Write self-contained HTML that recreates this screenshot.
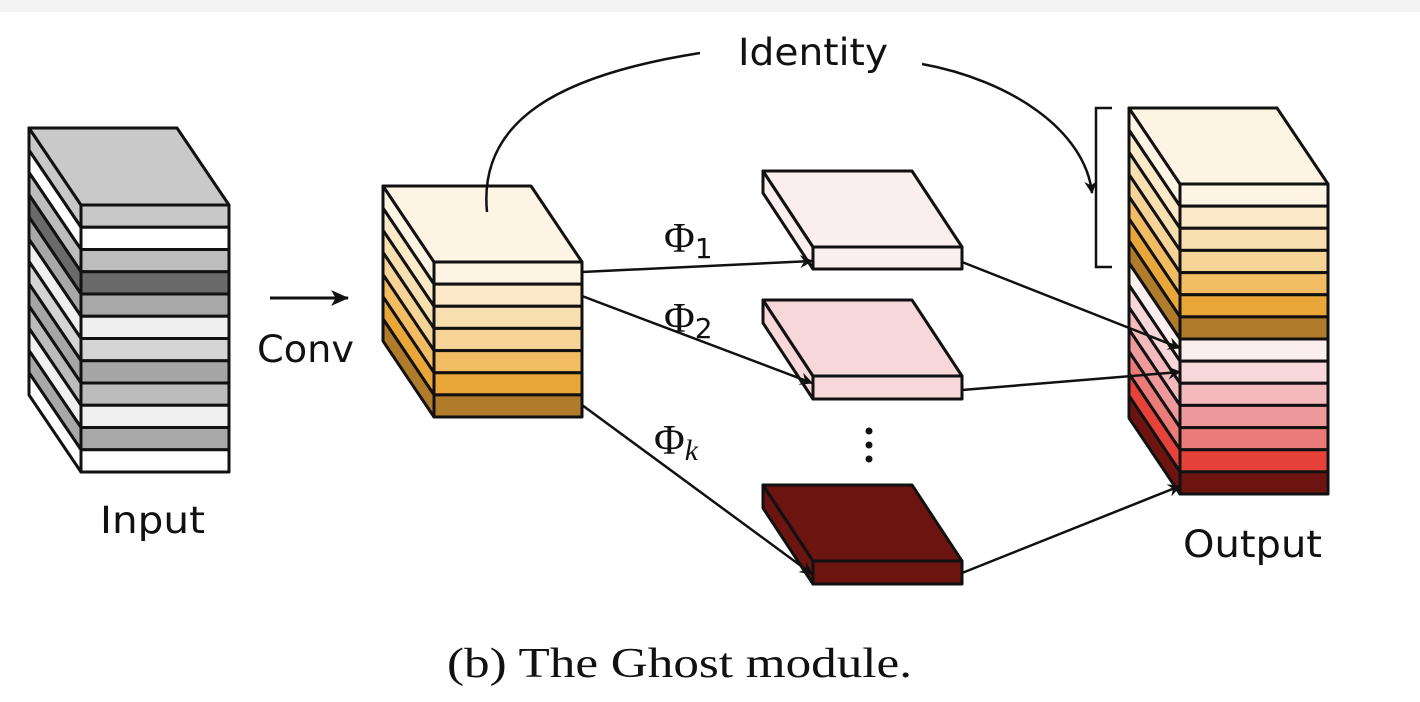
<!DOCTYPE html>
<html><head><meta charset="utf-8"><style>
html,body{margin:0;padding:0;background:#fff;}
svg{display:block;}
</style></head><body>
<svg id="s" width="1420" height="702" viewBox="0 0 1420 702" xmlns="http://www.w3.org/2000/svg">
<defs>
<marker id="ah" viewBox="0 0 12 12" refX="11" refY="6" markerWidth="13" markerHeight="13" markerUnits="userSpaceOnUse" orient="auto">
<path d="M0,0 L12,6 L0,12 L4,6 Z" fill="#111"/>
</marker>
<marker id="ah2" viewBox="0 0 16 16" refX="15" refY="8" markerWidth="18" markerHeight="18" markerUnits="userSpaceOnUse" orient="auto">
<path d="M0,1 L16,8 L0,15 L4,8 Z" fill="#111"/>
</marker>
</defs>
<rect x="0" y="0" width="1420" height="12" fill="#f3f3f3"/>
<g id="g" stroke="#111" stroke-width="3" stroke-linejoin="round"></g>
<g stroke="#111" stroke-width="2.5" fill="none">
<line x1="270" y1="298" x2="348" y2="298" marker-end="url(#ah2)" stroke-width="3"/>
<line x1="582" y1="272" x2="812" y2="261" marker-end="url(#ah)"/>
<line x1="582" y1="296" x2="812" y2="383" marker-end="url(#ah)"/>
<line x1="582" y1="405" x2="812" y2="574" marker-end="url(#ah)"/>
<line x1="962" y1="262" x2="1180" y2="348" marker-end="url(#ah)"/>
<line x1="962" y1="390" x2="1180" y2="372" marker-end="url(#ah)"/>
<line x1="962" y1="573" x2="1180" y2="486" marker-end="url(#ah)"/>
<path d="M487,212 C478,120 560,75 700,53"/>
<path d="M922,64 C1010,80 1085,130 1092,193" marker-end="url(#ah)"/>
<path d="M1112,108 L1096,108 L1096,267 L1112,267"/>
</g>
<g fill="#111"><circle cx="869" cy="431" r="3.5"/><circle cx="869" cy="445" r="3.5"/><circle cx="869" cy="459" r="3.5"/></g>
<g style="font-family:'DejaVu Sans','Liberation Sans',sans-serif" fill="#111" font-size="37">
<text x="738" y="65" textLength="150" lengthAdjust="spacingAndGlyphs">Identity</text>
<text x="257" y="362" textLength="97" lengthAdjust="spacingAndGlyphs">Conv</text>
<text x="100" y="533" textLength="105" lengthAdjust="spacingAndGlyphs">Input</text>
<text x="1183" y="557" textLength="139" lengthAdjust="spacingAndGlyphs">Output</text>
</g>
<g style="font-family:'Liberation Serif',serif" fill="#111">
<text x="664" y="252" font-size="42">Φ<tspan font-size="28" dy="6" style="font-family:'DejaVu Sans',sans-serif">1</tspan></text>
<text x="664" y="332" font-size="42">Φ<tspan font-size="28" dy="6" style="font-family:'DejaVu Sans',sans-serif">2</tspan></text>
<text x="654" y="454" font-size="42">Φ<tspan font-size="30" dy="6" font-style="italic">k</tspan></text>
<text x="447" y="677" font-size="42" textLength="465" lengthAdjust="spacingAndGlyphs">(b)  The Ghost module.</text>
</g>
</svg>
<script>
var g=document.getElementById('g'),NS='http://www.w3.org/2000/svg';
function poly(pts,fill){var p=document.createElementNS(NS,'polygon');p.setAttribute('points',pts.map(function(a){return a.join(',')}).join(' '));p.setAttribute('fill',fill);g.appendChild(p);}
function stack(fx,fy,w,h,dx,dy,cols,top){
  var n=cols.length,sh=h/n;
  for(var i=0;i<n;i++){var y=fy+i*sh;
    poly([[fx-dx,y-dy],[fx,y],[fx,y+sh],[fx-dx,y+sh-dy]],cols[i]);}
  poly([[fx-dx,fy-dy],[fx-dx+w,fy-dy],[fx+w,fy],[fx,fy]],top);
  for(var i=0;i<n;i++){var y=fy+i*sh;
    var r=document.createElementNS(NS,'rect');r.setAttribute('x',fx);r.setAttribute('y',y);r.setAttribute('width',w);r.setAttribute('height',sh);r.setAttribute('fill',cols[i]);g.appendChild(r);}
}
stack(81,205,148,267,52,77,['#c8c8c8','#ffffff','#bdbdbd','#6a6a6a','#a8a8a8','#efefef','#d4d4d4','#a6a6a6','#bcbcbc','#f0f0f0','#a8a8a8','#ffffff'],'#c9c9c9');
stack(434,262,148,155,51,76,['#fdf4e4','#fbe9c8','#f8dfb0','#f6d396','#f2bd62','#e9a73a','#b07c2c'],'#fdf4e4');
stack(1180,184,148,310,51,76,['#fdf4e4','#fbe9c8','#f8dfb0','#f6d396','#f2bd62','#e9a73a','#b07c2c','#fbeeee','#f7d7d9','#f3b9bc','#ee9a9c','#ea7b79','#e6423a','#6e1410'],'#fdf4e4');
stack(813,247,149,22,50,76,['#fbeeee'],'#fbeeee');
stack(813,376,149,23,50,76,['#f7d7d9'],'#f7d7d9');
stack(813,561,149,23,50,76,['#6b1410'],'#6b1410');
</script>
</body></html>
